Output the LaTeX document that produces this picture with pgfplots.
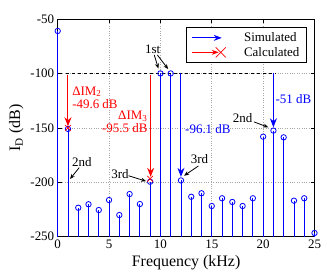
\documentclass[border=0pt]{standalone}
\usepackage{fontspec}
\setmainfont{Liberation Serif}
\usepackage{pgfplots}
\usepackage{pgfplotstable}
\pgfplotsset{compat=1.18}
\usetikzlibrary{arrows.meta}

\pgfplotstableread{
x y
0 -61
1 -151
2 -223.4
3 -220.2
4 -225.5
5 -216.3
6 -230.1
7 -210.8
8 -220.0
9 -199.5
10 -100
11 -100
12 -198.3
13 -213.3
14 -210.1
15 -221.8
16 -214.7
17 -218.1
18 -221.8
19 -214.7
20 -158.1
21 -152.5
22 -158.7
23 -216.9
24 -214.7
25 -246.6
}\simdata

\begin{document}
\begin{tikzpicture}
\begin{axis}[
  scale only axis, width=256.8bp, height=217.7bp,
  xmin=0, xmax=25, ymin=-250, ymax=-50,
  xtick={0,5,...,25}, ytick={-250,-200,...,-50},
  grid=major, major grid style={gray!70, dotted, line width=0.6bp},
  tick align=inside, major tick length=4bp,
  axis line style={line width=0.7bp},
  every tick/.style={black, line width=0.6bp},
  /pgf/number format/assume math mode=true,
  tick label style={font=\fontsize{13}{13}\selectfont},
  label style={font=\fontsize{16}{16}\selectfont},
  xlabel={Frequency (kHz)}, ylabel={I\textsubscript{D} (dB)},
  legend style={at={(rel axis cs:0.97,0.962)}, anchor=north east, draw=black, line width=0.7bp,
    font=\fontsize{13}{14}\selectfont, cells={anchor=west}, inner xsep=5bp, inner ysep=3bp},
  clip=false,
]
% stems (simulated)
\addplot[blue, line width=0.8bp, only marks, mark=o, mark size=2.7bp, mark options={solid, fill=white, line width=0.8bp}, forget plot,
  error bars/.cd, y dir=minus, y explicit, error mark=none, error bar style={blue, line width=0.8bp}]
  table[x=x, y=y, y error minus expr=\thisrow{y}+250] {\simdata};
% reference level
\addplot[black, dashed, line width=0.8bp, forget plot] coordinates {(0.8,-100) (21.2,-100)};
% simulated arrows
\addplot[blue, line width=1bp, -{Stealth[length=9bp,width=7bp]}, forget plot] coordinates {(21,-100) (21,-149.5)};
\addplot[blue, line width=1bp, -{Stealth[length=9bp,width=7bp]}, forget plot] coordinates {(12,-100) (12,-195)};
% calculated arrows
\addplot[red, line width=1bp, -{Stealth[length=9bp,width=7bp]}, forget plot] coordinates {(1,-101) (1,-148.5)};
\addplot[red, line width=1bp, -{Stealth[length=9bp,width=7bp]}, forget plot] coordinates {(9.05,-101) (9.05,-195)};
\addplot[red, only marks, mark=x, mark size=4bp, line width=0.7bp, forget plot] coordinates {(1,-150) (9,-196.8)};

% annotations
\node[red, align=left, anchor=west, font=\fontsize{13}{13}\selectfont, inner sep=1bp] at (axis cs:1.3,-122) {ΔIM\textsubscript{2}\\-49.6 dB};
\node[red, align=right, anchor=east, font=\fontsize{13}{13}\selectfont, inner sep=1bp] at (axis cs:8.85,-144.7) {ΔIM\textsubscript{3}\\-95.5 dB};
\node[blue, anchor=west, font=\fontsize{13}{13}\selectfont, inner sep=1bp] at (axis cs:12.3,-151) {-96.1 dB};
\node[blue, anchor=west, font=\fontsize{13}{13}\selectfont, inner sep=1bp] at (axis cs:21.1,-123.5) {-51 dB};

\node[font=\fontsize{13}{13}\selectfont] at (axis cs:9.25,-78) {1st};
\draw[line width=0.8bp, -{Stealth[length=5bp,width=4bp]}] (axis cs:9.4,-83) -- (axis cs:9.8,-95.5);
\draw[line width=0.8bp, -{Stealth[length=5bp,width=4bp]}] (axis cs:9.7,-83) -- (axis cs:10.75,-96);
\node[font=\fontsize{13}{13}\selectfont] at (axis cs:2.35,-181) {2nd};
\draw[line width=0.8bp, -{Stealth[length=5bp,width=4bp]}] (axis cs:2.1,-186.5) -- (axis cs:1.2,-197);
\node[font=\fontsize{13}{13}\selectfont] at (axis cs:6.06,-192.3) {3rd};
\draw[line width=0.8bp, -{Stealth[length=5bp,width=4bp]}] (axis cs:6.9,-194) -- (axis cs:8.6,-199);
\node[font=\fontsize{13}{13}\selectfont] at (axis cs:13.8,-178.5) {3rd};
\draw[line width=0.8bp, -{Stealth[length=5bp,width=4bp]}] (axis cs:13.7,-185) -- (axis cs:12.3,-194);
\node[font=\fontsize{13}{13}\selectfont] at (axis cs:18.0,-141) {2nd};
\draw[line width=0.8bp, -{Stealth[length=5bp,width=4bp]}] (axis cs:19.1,-144.5) -- (axis cs:20.5,-149.5);

% legend
\addlegendimage{legend image code/.code={\draw[blue, line width=1bp, -{Stealth[length=8bp,width=6bp]}] (0bp,0bp) -- (30bp,0bp); \path (50bp,0bp);}}
\addlegendentry{Simulated}
\addlegendimage{legend image code/.code={\draw[red, line width=1bp, -{Stealth[length=7bp,width=5bp]}] (0bp,0bp) -- (27bp,0bp); \draw[red, line width=0.7bp] (24bp,-5bp) -- (34bp,5bp) (24bp,5bp) -- (34bp,-5bp); \path (50bp,0bp);}}
\addlegendentry{Calculated}
\end{axis}
\path (current axis.south west) ++(-57.7bp,-39.3bp) rectangle ++(327bp,276bp);
\end{tikzpicture}
\end{document}
